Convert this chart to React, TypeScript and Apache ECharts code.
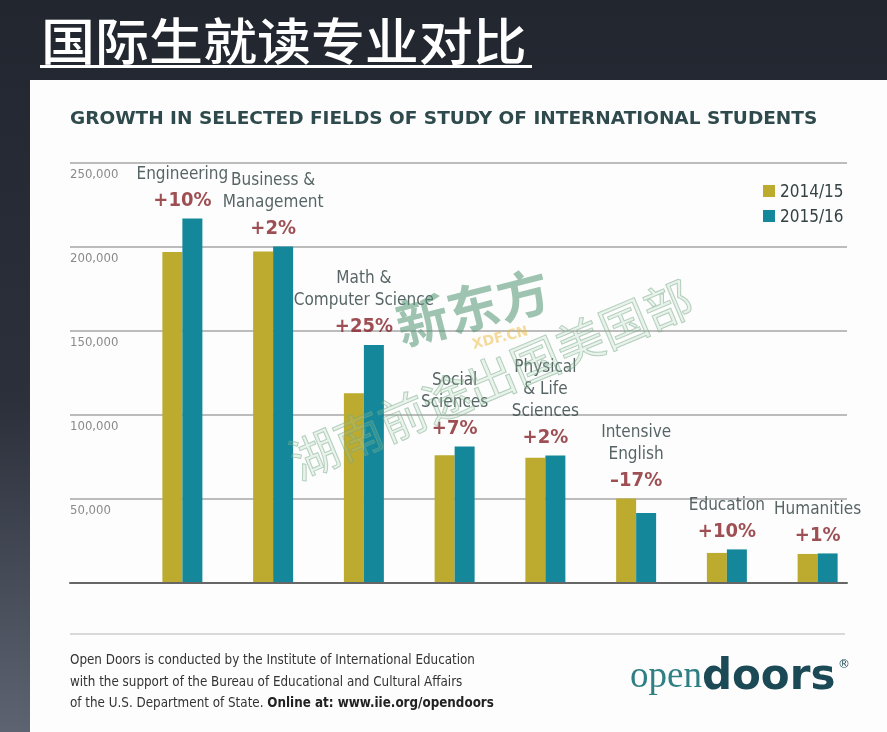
import React, { useEffect, useRef } from "react";
import * as echarts from "echarts";

const categories = [
  "Engineering",
  "Business &\nManagement",
  "Math &\nComputer Science",
  "Social\nSciences",
  "Physical\n& Life\nSciences",
  "Intensive\nEnglish",
  "Education",
  "Humanities",
];
const changes = ["+10%", "+2%", "+25%", "+7%", "+2%", "–17%", "+10%", "+1%"];
const series2014 = [197000, 197300, 113000, 76000, 74500, 50300, 17900, 17300];
const series2015 = [216900, 200300, 141700, 81300, 75900, 41700, 20000, 17600];
const seriesNames = ["2014/15", "2015/16"];
const yTicks = [0, 50000, 100000, 150000, 200000, 250000];

const GOLD = "#bcab2f";
const TEAL = "#14889a";
const NARROW = "'DejaVu Sans Condensed', 'DejaVu Sans', sans-serif";
const COND_BOLD = "'DejaVu Sans Condensed', 'DejaVu Sans', sans-serif";

export default function App() {
  const ref = useRef<HTMLDivElement>(null);
  useEffect(() => {
    const chart = echarts.init(ref.current!, null, { renderer: "svg" });
    const yMax = yTicks[yTicks.length - 1];
    const yStep = yTicks[1] - yTicks[0];
    const labelData = categories.map((c, i) => {
      const name = c
        .split("\n")
        .map((l) => `{n|${l}}`)
        .join("\n");
      return {
        value: Math.max(series2014[i], series2015[i]),
        label: { formatter: `${name}\n{p|${changes[i]}}` },
      };
    });
    chart.setOption({
      animation: false,
      graphic: [
        {
          type: "rect",
          z: -10,
          shape: { x: 0, y: 0, width: 887, height: 732 },
          style: {
            fill: new echarts.graphic.LinearGradient(0, 0, 0, 1, [
              { offset: 0, color: "#22262f" },
              { offset: 0.55, color: "#2b303b" },
              { offset: 1, color: "#5d6370" },
            ]),
          },
        },
        {
          type: "rect",
          z: -9,
          shape: { x: 30, y: 80, width: 857, height: 652 },
          style: { fill: "#fdfdfd" },
        },
        {
          type: "text",
          x: 41,
          y: 38,
          scaleX: 1.08,
          style: {
            text: "国际生就读专业对比",
            fill: "#ffffff",
            font: "500 50px 'Noto Sans CJK SC', sans-serif",
            align: "left",
            verticalAlign: "middle",
          },
        },
        {
          type: "rect",
          shape: { x: 40, y: 65, width: 492, height: 3 },
          style: { fill: "#ffffff" },
        },
        {
          type: "text",
          x: 70,
          y: 117,
          style: {
            text: "GROWTH IN SELECTED FIELDS OF STUDY OF INTERNATIONAL STUDENTS",
            fill: "#2f4a4c",
            font: "bold 18.5px 'DejaVu Sans', sans-serif",
            align: "left",
            verticalAlign: "middle",
          },
        },
        {
          type: "rect",
          shape: { x: 70, y: 633, width: 775, height: 2 },
          style: { fill: "#d9d9d9" },
        },
        {
          type: "text",
          x: 70,
          y: 649,
          style: {
            text:
              "{a|Open Doors is conducted by the Institute of International Education}\n" +
              "{a|with the support of the Bureau of Educational and Cultural Affairs}\n" +
              "{a|of the U.S. Department of State. }{b|Online at: www.iie.org/opendoors}",
            rich: {
              a: { font: `13.3px ${NARROW}`, fill: "#333333", lineHeight: 21.5 },
              b: { font: `bold 13.3px ${NARROW}`, fill: "#222222", lineHeight: 21.5 },
            },
            align: "left",
            verticalAlign: "top",
          },
        },
        {
          type: "text",
          x: 630,
          y: 695,
          style: {
            text: "{o|open}{d|doors}",
            rich: {
              o: { font: "37px 'Liberation Serif', serif", fill: "#2f7f85" },
              d: { font: "bold 42px 'DejaVu Sans', sans-serif", fill: "#1b4a56" },
            },
            align: "left",
            verticalAlign: "bottom",
          },
        },
        {
          type: "text",
          x: 838,
          y: 664,
          style: {
            text: "®",
            fill: "#1b4a56",
            font: "12px 'DejaVu Sans', sans-serif",
            align: "left",
            verticalAlign: "middle",
          },
        },
        {
          type: "text",
          x: 472,
          y: 305,
          z: 50,
          rotation: 0.25,
          style: {
            text: "新东方",
            fill: "rgba(80,150,115,0.55)",
            font: "bold 52px 'Noto Sans CJK SC', sans-serif",
            align: "center",
            verticalAlign: "middle",
          },
        },
        {
          type: "text",
          x: 500,
          y: 337,
          z: 50,
          rotation: 0.25,
          style: {
            text: "XDF.CN",
            fill: "rgba(235,185,60,0.5)",
            font: "bold 14px 'DejaVu Sans', sans-serif",
            align: "center",
            verticalAlign: "middle",
          },
        },
        {
          type: "text",
          x: 490,
          y: 377,
          z: 50,
          rotation: 0.4,
          style: {
            text: "湖南前途出国美国部",
            fill: "rgba(160,200,170,0.2)",
            stroke: "rgba(110,165,130,0.5)",
            lineWidth: 1,
            font: "48px 'Noto Sans CJK SC', sans-serif",
            align: "center",
            verticalAlign: "middle",
          },
        },
      ],
      legend: {
        data: seriesNames,
        orient: "vertical",
        left: 763,
        top: 181,
        padding: 0,
        icon: "rect",
        itemWidth: 12,
        itemHeight: 12,
        itemGap: 5,
        textStyle: { fontFamily: NARROW, fontSize: 17, color: "#344244", lineHeight: 20 },
      },
      grid: [
        { left: 70, right: 40, top: 163, height: 420, containLabel: false },
        { left: 137, width: 726, top: 163, height: 420, containLabel: false },
      ],
      xAxis: [
        {
          gridIndex: 0,
          type: "category",
          data: [""],
          axisLine: { show: true, lineStyle: { color: "#666666", width: 2 } },
          axisTick: { show: false },
          axisLabel: { show: false },
          z: 3,
        },
        {
          gridIndex: 1,
          type: "category",
          data: categories,
          show: false,
        },
      ],
      yAxis: [
        {
          gridIndex: 0,
          type: "value",
          min: 0,
          max: yMax,
          interval: yStep,
          axisLine: { show: false },
          axisTick: { show: false },
          splitLine: { lineStyle: { color: "#a6a6a6", width: 1.5 } },
          axisLabel: {
            inside: true,
            margin: 0,
            verticalAlign: "top",
            padding: [4, 0, 0, 0],
            color: "#8a8a8a",
            fontFamily: NARROW,
            fontSize: 13,
            formatter: (v: number) => (v === 0 ? "" : v.toLocaleString("en-US")),
          },
        },
        {
          gridIndex: 1,
          type: "value",
          min: 0,
          max: yMax,
          interval: yStep,
          show: false,
          splitLine: { show: false },
        },
      ],
      series: [
        {
          name: seriesNames[0],
          type: "bar",
          xAxisIndex: 1,
          yAxisIndex: 1,
          data: series2014,
          barWidth: 20,
          barGap: "0%",
          itemStyle: { color: GOLD },
          z: 2,
        },
        {
          name: seriesNames[1],
          type: "bar",
          xAxisIndex: 1,
          yAxisIndex: 1,
          data: series2015,
          barWidth: 20,
          barGap: "0%",
          itemStyle: { color: TEAL },
          z: 2,
        },
        {
          name: "labels",
          type: "scatter",
          xAxisIndex: 1,
          yAxisIndex: 1,
          data: labelData,
          symbolSize: 1,
          itemStyle: { color: "transparent" },
          label: {
            show: true,
            position: "top",
            distance: 4,
            align: "center",
            rich: {
              n: { fontFamily: NARROW, fontSize: 17, color: "#2d3d3f", lineHeight: 22 },
              p: { fontFamily: COND_BOLD, fontWeight: "bold", fontSize: 20, color: "#862328", lineHeight: 30 },
            },
          },
          emphasis: { disabled: true },
          silent: true,
          z: 5,
        },
      ],
    });
    return () => chart.dispose();
  }, []);
  return <div ref={ref} style={{ position: "fixed", left: 0, top: 0, width: 887, height: 732 }} />;
}
